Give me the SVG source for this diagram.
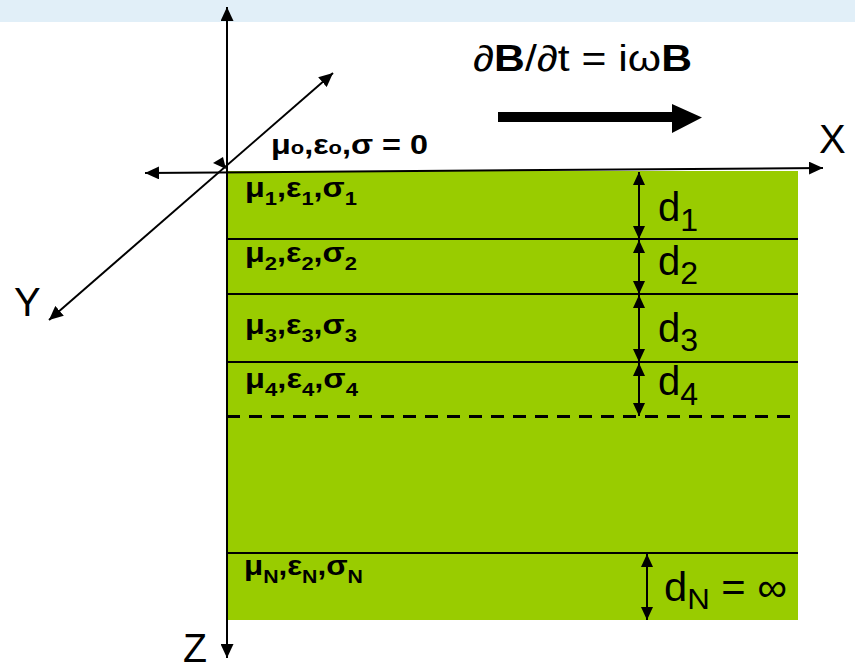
<svg xmlns="http://www.w3.org/2000/svg" width="855" height="670" viewBox="0 0 855 670">
<style>
.lbl{font-family:"Liberation Sans",Arial,sans-serif;font-weight:bold;font-size:28px;fill:#000}
.sub{font-size:19px}
.ax{font-family:"Liberation Sans",Arial,sans-serif;font-size:40px;fill:#000}
.dl{font-family:"Liberation Sans",Arial,sans-serif;font-size:40px;fill:#000}
.ds{font-size:32px}
.ln{stroke:#000;stroke-width:2;fill:none}
.axl{stroke:#000;stroke-width:2;fill:none;marker-start:url(#ah);marker-end:url(#ah)}
.dim{stroke:#000;stroke-width:2;fill:none;marker-start:url(#dh);marker-end:url(#dh)}
</style>
<defs>
<marker id="ah" markerUnits="userSpaceOnUse" markerWidth="14" markerHeight="13" refX="14" refY="6.5" orient="auto-start-reverse" viewBox="0 0 14 13">
<path d="M0,0 L14,6.5 L0,13 z" fill="#000"/>
</marker>
<marker id="dh" markerUnits="userSpaceOnUse" markerWidth="13" markerHeight="12" refX="13" refY="6" orient="auto-start-reverse" viewBox="0 0 13 12">
<path d="M0,0 L13,6 L0,12 z" fill="#000"/>
</marker>
</defs>
<rect x="0" y="0" width="855" height="22" fill="#e1eff8"/>
<g id="medium">
<rect x="227" y="171" width="571" height="449" fill="#99cc00"/>
</g>
<g id="layer0">
<text class="lbl" x="271" y="154" textLength="157" lengthAdjust="spacingAndGlyphs">μ<tspan class="sub">o</tspan>,ε<tspan class="sub">o</tspan>,σ = 0</text>
</g>
<g id="layer1">
<text class="lbl" x="245" y="197" textLength="112" lengthAdjust="spacingAndGlyphs">μ<tspan class="sub" dy="8">1</tspan><tspan dy="-8">,ε</tspan><tspan class="sub" dy="8">1</tspan><tspan dy="-8">,σ</tspan><tspan class="sub" dy="8">1</tspan></text>
<text class="dl" x="658" y="221">d<tspan class="ds" dy="10">1</tspan></text>
</g>
<g id="layer2">
<line class="ln" x1="227" y1="239" x2="798" y2="239"/>
<text class="lbl" x="245" y="262" textLength="112" lengthAdjust="spacingAndGlyphs">μ<tspan class="sub" dy="8">2</tspan><tspan dy="-8">,ε</tspan><tspan class="sub" dy="8">2</tspan><tspan dy="-8">,σ</tspan><tspan class="sub" dy="8">2</tspan></text>
<text class="dl" x="658" y="275">d<tspan class="ds" dy="9">2</tspan></text>
</g>
<g id="layer3">
<line class="ln" x1="227" y1="294" x2="798" y2="294"/>
<text class="lbl" x="245" y="334" textLength="112" lengthAdjust="spacingAndGlyphs">μ<tspan class="sub" dy="8">3</tspan><tspan dy="-8">,ε</tspan><tspan class="sub" dy="8">3</tspan><tspan dy="-8">,σ</tspan><tspan class="sub" dy="8">3</tspan></text>
<text class="dl" x="658" y="342">d<tspan class="ds" dy="9">3</tspan></text>
</g>
<g id="layer4">
<line class="ln" x1="227" y1="362" x2="798" y2="362"/>
<text class="lbl" x="245" y="388" textLength="113" lengthAdjust="spacingAndGlyphs">μ<tspan class="sub" dy="8">4</tspan><tspan dy="-8">,ε</tspan><tspan class="sub" dy="8">4</tspan><tspan dy="-8">,σ</tspan><tspan class="sub" dy="8">4</tspan></text>
<text class="dl" x="658" y="395">d<tspan class="ds" dy="10">4</tspan></text>
<line x1="227" y1="416.5" x2="798" y2="416.5" stroke="#000" stroke-width="3" stroke-dasharray="13 9"/>
</g>
<g id="layerN">
<line class="ln" x1="227" y1="553" x2="798" y2="553"/>
<text class="lbl" x="244" y="575" textLength="119" lengthAdjust="spacingAndGlyphs">μ<tspan class="sub" dy="8">N</tspan><tspan dy="-8">,ε</tspan><tspan class="sub" dy="8">N</tspan><tspan dy="-8">,σ</tspan><tspan class="sub" dy="8">N</tspan></text>
<text class="dl" x="664" y="601" font-size="36" textLength="123" lengthAdjust="spacingAndGlyphs">d<tspan font-size="30" dy="8">N</tspan><tspan dy="-8"> = ∞</tspan></text>
</g>
<g id="field">
<text x="473" y="71" font-family="'Liberation Sans',Arial,sans-serif" font-size="36" textLength="219" lengthAdjust="spacingAndGlyphs">∂<tspan font-weight="bold">B</tspan>/∂t = iω<tspan font-weight="bold">B</tspan></text>
<path d="M498,112 H672 V104 L702,117.5 L672,133 V122 H498 z" fill="#000"/>
</g>
<g id="axes-labels">
<text class="ax" x="819" y="153">X</text>
<text class="ax" x="14" y="316">Y</text>
<text class="ax" x="183" y="662" font-size="36" textLength="24" lengthAdjust="spacingAndGlyphs">Z</text>
</g>
<g id="connectors">
<line class="axl" x1="145" y1="173" x2="823" y2="168"/>
<line class="axl" x1="227" y1="7" x2="227" y2="658"/>
<line class="axl" x1="333" y1="73" x2="49" y2="320"/>
<path d="M226,169 L213,163 L223,157 z" fill="#000"/>
<line class="dim" x1="639" y1="172" x2="639" y2="239"/>
<line class="dim" x1="639" y1="240" x2="639" y2="294"/>
<line class="dim" x1="639" y1="295" x2="639" y2="362"/>
<line class="dim" x1="639" y1="363" x2="639" y2="416"/>
<line class="dim" x1="647" y1="554" x2="647" y2="620"/>
</g>
</svg>
